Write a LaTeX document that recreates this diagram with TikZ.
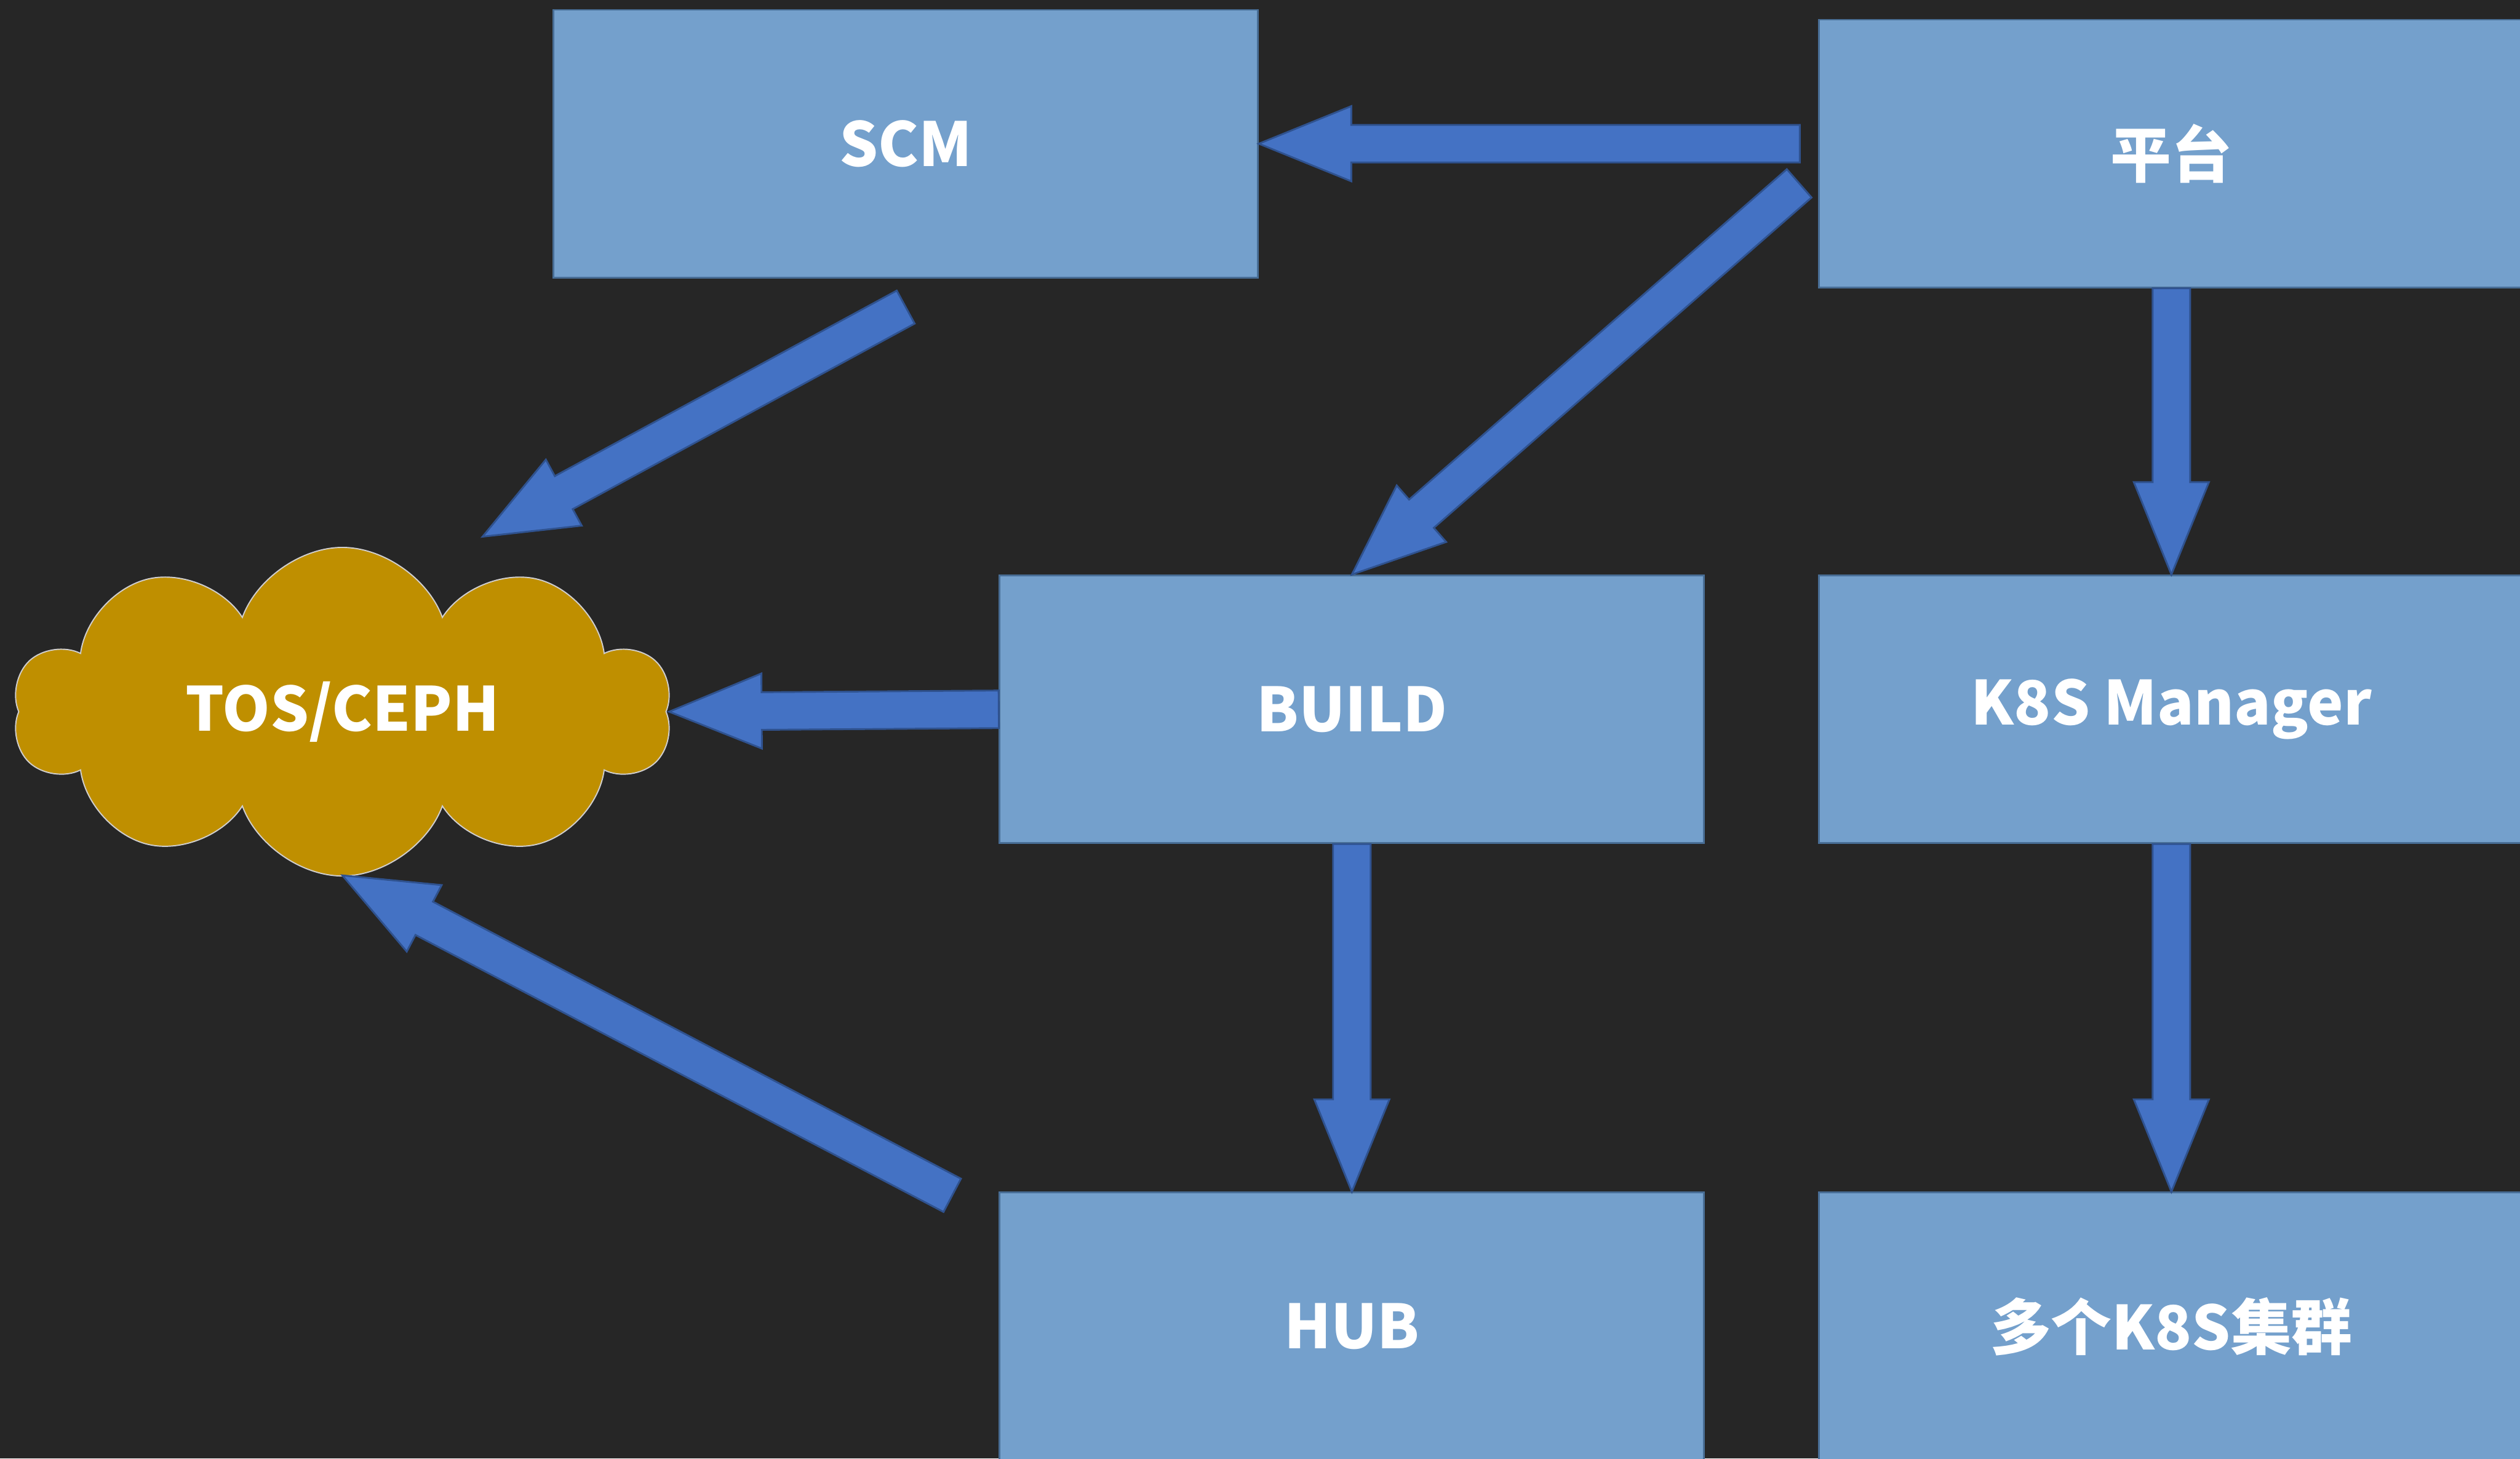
\documentclass[tikz,border=0pt]{standalone}
\usepackage{fontspec}
\setmainfont{Noto Sans CJK SC}
\usepackage{tikz}
\usetikzlibrary{shapes, arrows, calc, positioning}

\definecolor{bgdark}{RGB}{38,38,38}
\definecolor{boxfill}{RGB}{116,160,204}
\definecolor{boxline}{RGB}{72,110,150}
\definecolor{flowfill}{RGB}{68,114,196}
\definecolor{flowline}{RGB}{47,82,143}
\definecolor{cephgold}{RGB}{191,143,0}
\definecolor{cephline}{RGB}{208,206,206}

\begin{document}
\begin{tikzpicture}[font=\bfseries\fontsize{29pt}{31pt}\selectfont, text=white]
    \tikzstyle{box} = [draw=boxline, fill=boxfill, line width=0.03cm, rectangle,
	minimum width=11.81cm, minimum height=4.49cm, inner sep=0pt]
    \tikzstyle{store} = [draw=cephline, fill=cephgold, line width=0.02cm, cloud,
	cloud puffs=10, cloud puff arc=140, aspect=2,
	minimum width=11.04cm, minimum height=5.51cm, inner sep=0pt]
    \tikzstyle{flow} = [draw=flowline, fill=flowfill, line width=0.03cm, line join=miter,
	to path={($(\tikztotarget)!1.55cm!(\tikztostart)$) coordinate (neck)
		($(\tikztostart)!0.315cm!90:(\tikztotarget)$)
		-- ($(neck)!0.315cm!90:(\tikztotarget)$)
		-- ($(neck)!0.63cm!90:(\tikztotarget)$)
		-- (\tikztotarget)
		-- ($(neck)!0.63cm!-90:(\tikztotarget)$)
		-- ($(neck)!0.315cm!-90:(\tikztotarget)$)
		-- ($(\tikztostart)!0.315cm!-90:(\tikztotarget)$)
		-- cycle}]

	\useasboundingbox (0,0) rectangle (42.25,-24.46);
	\fill[bgdark] (0,0) rectangle (42.25,-24.46);

	\begin{scope}
		\path
			node[box] (scm) at (15.185,-2.41) {SCM}
			node[box] (build) at (22.665,-11.895) {BUILD}
			node[box, right=1.9cm of build] (k8s) {K8S Manager}
			node[box, above=4.8cm of k8s] (plat) {平台}
			node[box, below=5.83cm of build] (hub) {HUB}
			node[box, right=1.9cm of hub] (clus) {多个K8S集群}
			node[store] (ceph) at (5.74,-11.935) {TOS/CEPH}

			coordinate (platout) at ($(plat.west |- scm.east)+(-0.31,0)$)
			coordinate (platdiag) at ($(plat.west)+(-0.32,-0.5)$)
			coordinate (scmout) at ($(scm.south)+(0,-0.48)$)
			coordinate (hubout) at ($(hub.north west)+(-0.78,-0.06)$)
			coordinate (cephtop) at ($(ceph.center)+(2.35,2.935)$)
			coordinate (cepheast) at ($(ceph.center)+(5.48,0)$)
			coordinate (cephbot) at ($(ceph.center)+(0,-2.745)$)

			(platout) edge[flow] (scm.east)
			(platdiag) edge[flow] (build.north)
			(plat.south) edge[flow] (k8s.north)

			(build.south) edge[flow] (hub.north)
			(k8s.south) edge[flow] (clus.north)

			(build.west) edge[flow] (cepheast)
			(scmout) edge[flow] (cephtop)
			(hubout) edge[flow] (cephbot)
		;
	\end{scope}
\end{tikzpicture}
\end{document}
